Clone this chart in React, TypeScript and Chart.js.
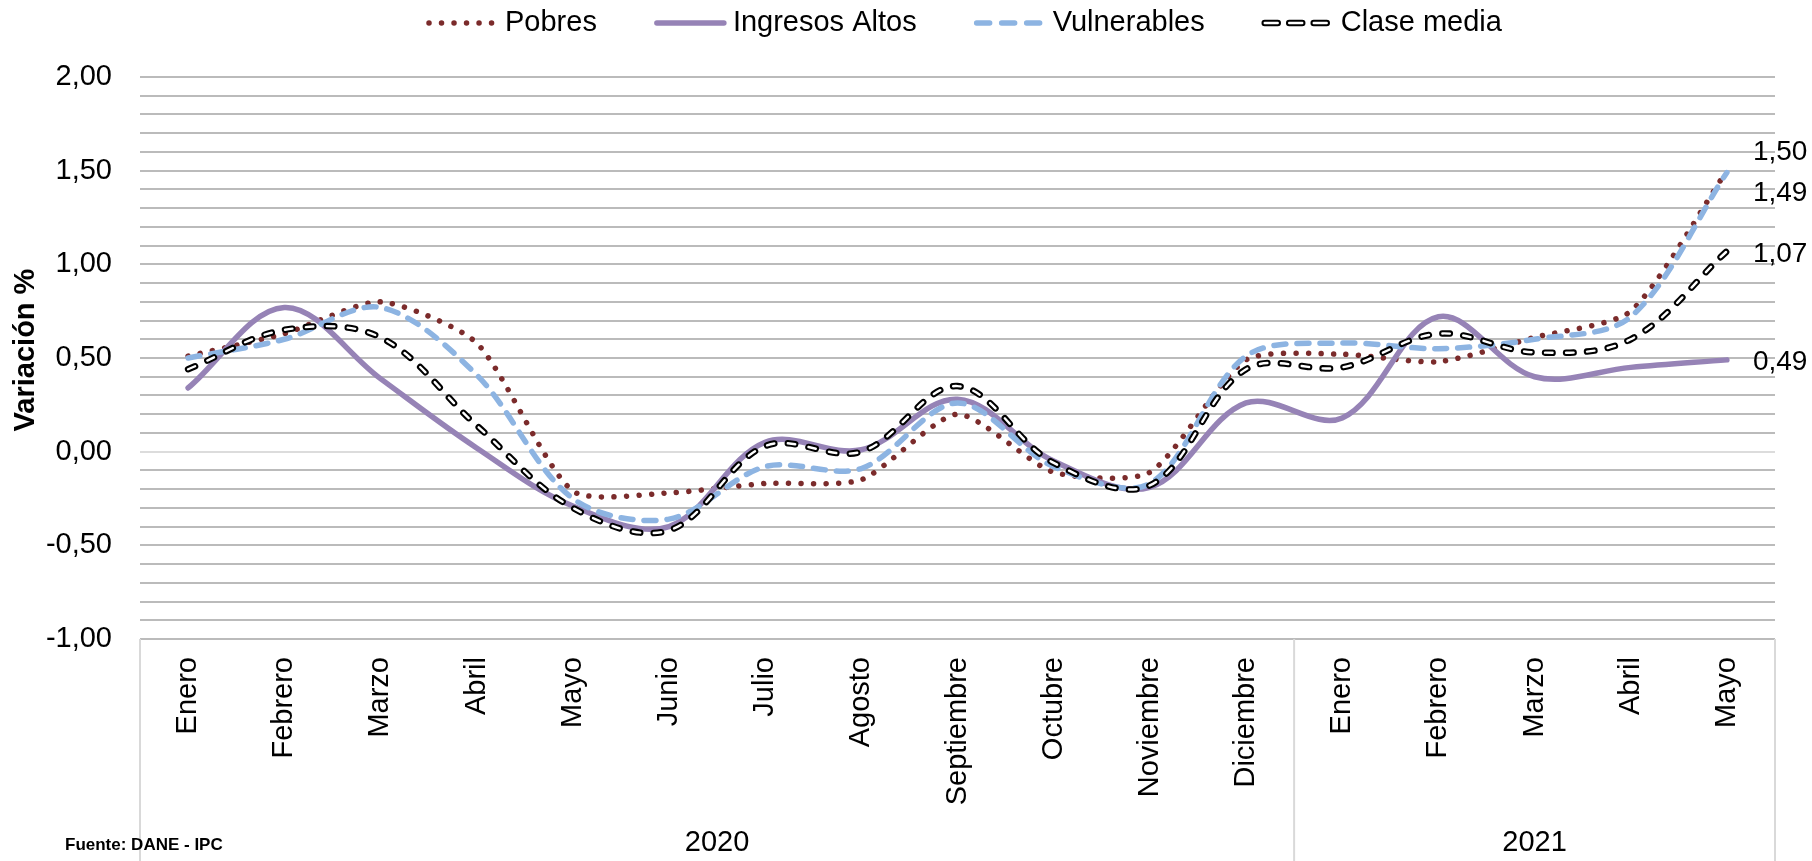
import React, { useEffect, useRef } from 'react';
import { Chart, registerables } from 'chart.js';

Chart.register(...registerables);

// ---------- data ----------
const months = [
  'Enero', 'Febrero', 'Marzo', 'Abril', 'Mayo', 'Junio', 'Julio', 'Agosto',
  'Septiembre', 'Octubre', 'Noviembre', 'Diciembre',
  'Enero', 'Febrero', 'Marzo', 'Abril', 'Mayo',
];
const yearLabels = ['2020', '2021'];
const yearSpans = [12, 5];

const seriesNames = ['Pobres', 'Ingresos Altos', 'Vulnerables', 'Clase media'];
const pobres = [0.51, 0.63, 0.80, 0.58, -0.21, -0.22, -0.17, -0.15, 0.20, -0.11, -0.11, 0.49, 0.52, 0.48, 0.61, 0.75, 1.50];
const ingresosAltos = [0.34, 0.77, 0.39, 0.02, -0.29, -0.40, 0.05, 0.01, 0.28, -0.05, -0.19, 0.26, 0.18, 0.72, 0.40, 0.45, 0.49];
const vulnerables = [0.50, 0.60, 0.77, 0.41, -0.25, -0.36, -0.08, -0.09, 0.26, -0.08, -0.17, 0.51, 0.58, 0.55, 0.60, 0.72, 1.49];
const claseMedia = [0.44, 0.65, 0.61, 0.14, -0.30, -0.42, 0.03, 0.00, 0.35, -0.06, -0.18, 0.44, 0.45, 0.63, 0.53, 0.60, 1.07];
const seriesValues = [pobres, ingresosAltos, vulnerables, claseMedia];

const yMin = -1;
const yMax = 2;
const yStep = 0.1;
const yLabelStep = 0.5;

const axisTitle = 'Variación %';
const sourceNote = 'Fuente: DANE - IPC';

// ---------- styles ----------
const FONT = '"Liberation Sans", Arial, Helvetica, sans-serif';

type Layer = { color: string; width: number; dash: number[]; legendDash: number[]; cap: CanvasLineCap };
const seriesLayers: Layer[][] = [
  [{ color: '#7b2b2b', width: 5.5, dash: [0.01, 12.5], legendDash: [0.01, 12.5], cap: 'round' }],
  [{ color: '#9683b6', width: 5.5, dash: [], legendDash: [], cap: 'round' }],
  [{ color: '#8db4e2', width: 5.5, dash: [12, 11], legendDash: [13, 12], cap: 'round' }],
  [
    { color: '#000000', width: 6.5, dash: [7.5, 13.5], legendDash: [13, 11.5], cap: 'round' },
    { color: '#ffffff', width: 2.4, dash: [7.5, 13.5], legendDash: [13, 11.5], cap: 'round' },
  ],
];
const seriesTension = [0.22, 0.35, 0.32, 0.35];
const labelOffsets = [-18, 2, 21, 3];

const fmt = (v: number) => v.toFixed(2).replace('.', ',');
const isLabelTick = (v: number) => Math.abs(v / yLabelStep - Math.round(v / yLabelStep)) < 1e-6;

const legendPlugin = {
  id: 'customLegend',
  afterDraw(chart: any) {
    const ctx: CanvasRenderingContext2D = chart.ctx;
    ctx.save();
    ctx.font = `29px ${FONT}`;
    ctx.textBaseline = 'middle';
    ctx.textAlign = 'left';
    let x = 426;
    const y = 23;
    seriesNames.forEach((name, i) => {
      seriesLayers[i].forEach((l) => {
        ctx.beginPath();
        ctx.lineWidth = l.width;
        ctx.strokeStyle = l.color;
        ctx.setLineDash(l.legendDash);
        ctx.lineCap = l.cap;
        ctx.moveTo(x + 3, y);
        ctx.lineTo(x + 70, y);
        ctx.stroke();
      });
      ctx.setLineDash([]);
      ctx.fillStyle = '#000';
      ctx.fillText(name, x + 79, y);
      x += 79 + ctx.measureText(name).width + 57;
    });
    ctx.restore();
  },
};

const extrasPlugin = {
  id: 'extras',
  afterDatasetsDraw(chart: any) {
    const ctx: CanvasRenderingContext2D = chart.ctx;
    ctx.save();
    ctx.font = `28px ${FONT}`;
    ctx.fillStyle = '#000';
    ctx.textAlign = 'left';
    ctx.textBaseline = 'middle';
    chart.data.datasets.forEach((ds: any, di: number) => {
      if (ds.seriesIndex === undefined || !ds.primary) return;
      const meta = chart.getDatasetMeta(di);
      const pts = meta.data;
      const last = pts[pts.length - 1];
      const vals = seriesValues[ds.seriesIndex];
      ctx.fillText(fmt(vals[vals.length - 1]), last.x + 26, last.y + labelOffsets[ds.seriesIndex]);
    });
    ctx.restore();
  },
  afterDraw(chart: any) {
    const ctx: CanvasRenderingContext2D = chart.ctx;
    const xs = chart.scales.x;
    const { left, right, bottom } = chart.chartArea;
    const H = chart.height;
    const half = (xs.getPixelForValue(1) - xs.getPixelForValue(0)) / 2;
    ctx.save();
    ctx.strokeStyle = '#d9d9d9';
    ctx.lineWidth = 2;
    const bounds: number[] = [left];
    let start = 0;
    yearSpans.forEach((n) => {
      const end = start + n;
      bounds.push(end >= months.length ? right : xs.getPixelForValue(end - 1) + half);
      start = end;
    });
    bounds.forEach((bx) => {
      ctx.beginPath();
      ctx.moveTo(bx, bottom);
      ctx.lineTo(bx, H);
      ctx.stroke();
    });
    ctx.fillStyle = '#000';
    ctx.font = `29px ${FONT}`;
    ctx.textAlign = 'center';
    ctx.textBaseline = 'middle';
    yearLabels.forEach((lab, i) => {
      ctx.fillText(lab, (bounds[i] + bounds[i + 1]) / 2, 843);
    });
    // axis title
    ctx.save();
    ctx.translate(26, 350);
    ctx.rotate(-Math.PI / 2);
    ctx.font = `bold 29px ${FONT}`;
    ctx.fillText(axisTitle, 0, 0);
    ctx.restore();
    ctx.font = `bold 17px ${FONT}`;
    ctx.textAlign = 'left';
    ctx.fillText(sourceNote, 65, 845);
    ctx.restore();
  },
};

export default function App() {
  const ref = useRef<HTMLCanvasElement | null>(null);

  useEffect(() => {
    if (!ref.current) return;
    const datasets: any[] = [];
    let order = 20;
    seriesNames.forEach((name, si) => {
      seriesLayers[si].forEach((l, li) => {
        datasets.push({
          label: name,
          data: seriesValues[si],
          seriesIndex: si,
          primary: li === 0,
          borderColor: l.color,
          backgroundColor: l.color,
          borderWidth: l.width,
          borderDash: l.dash,
          borderCapStyle: l.cap,
          borderJoinStyle: 'round',
          pointRadius: 0,
          pointHoverRadius: 0,
          tension: seriesTension[si],
          fill: false,
          order: order--,
        });
      });
    });

    const chart = new Chart(ref.current, {
      type: 'line',
      data: { labels: months, datasets },
      plugins: [legendPlugin, extrasPlugin],
      options: {
        animation: false,
        responsive: false,
        devicePixelRatio: 1,
        layout: { padding: { top: 77, right: 37, left: 0, bottom: 0 } },
        plugins: {
          legend: { display: false },
          tooltip: { enabled: false },
          title: { display: false },
        },
        events: [],
        scales: {
          x: {
            type: 'category',
            offset: true,
            grid: { display: false, drawTicks: false },
            border: { display: false },
            ticks: {
              autoSkip: false,
              maxRotation: 90,
              minRotation: 90,
              padding: 18,
              color: '#000',
              font: { family: FONT, size: 29 },
            },
            afterFit: (scale: any) => {
              scale.height = 222;
            },
          },
          y: {
            type: 'linear',
            min: yMin,
            max: yMax,
            grid: {
              color: (c: any) => (Math.abs(c.tick?.value ?? 1) < 1e-9 ? '#dcdcdc' : '#bbbbbb'),
              lineWidth: 2,
              drawTicks: false,
            },
            border: { display: false },
            ticks: {
              stepSize: yStep,
              autoSkip: false,
              padding: 28,
              color: '#000',
              font: { family: FONT, size: 29 },
              callback: (v: any) => (isLabelTick(Number(v)) ? fmt(Number(v)) : ''),
            },
            afterFit: (scale: any) => {
              scale.width = 140;
            },
          },
        },
      } as any,
    });
    return () => chart.destroy();
  }, []);

  return (
    <div style={{ position: 'absolute', left: 0, top: 0, width: 1812, height: 861, background: '#fff' }}>
      <canvas ref={ref} width={1812} height={861} style={{ display: 'block', width: 1812, height: 861 }} />
    </div>
  );
}
